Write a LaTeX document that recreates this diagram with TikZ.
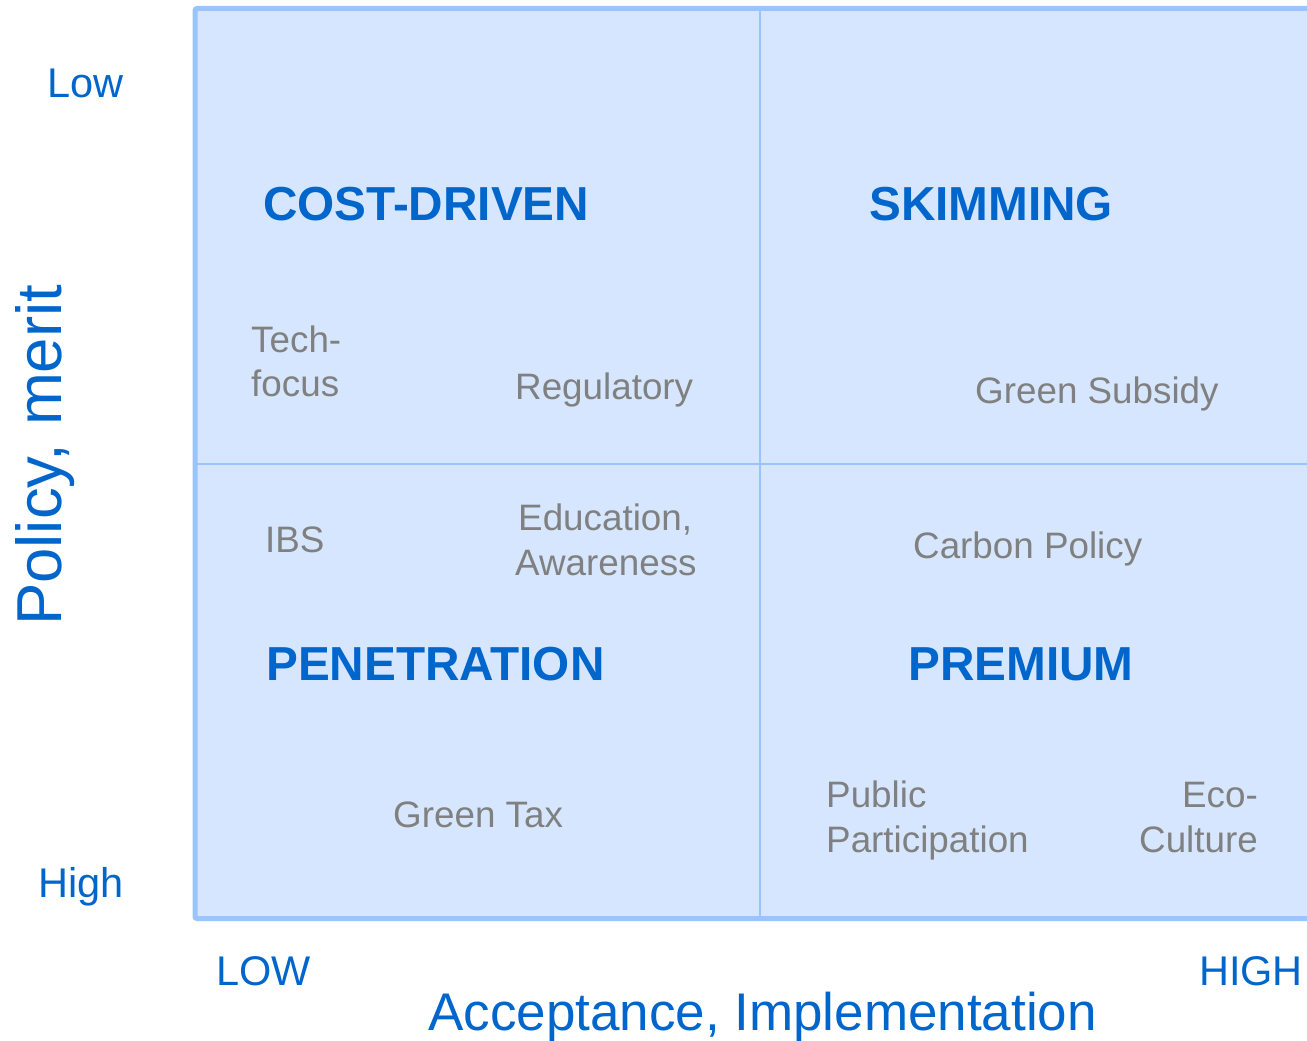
\documentclass[tikz,border=0pt]{standalone}
\usepackage{fontspec}
\setmainfont{Liberation Sans}
\definecolor{bfill}{HTML}{D6E6FF}
\definecolor{bline}{HTML}{99C4FF}
\definecolor{tblue}{HTML}{0066CC}
\definecolor{tgray}{HTML}{808080}
\begin{document}
\begin{tikzpicture}[x=1pt,y=-1pt,
  axis/.style={text=tblue,font=\fontsize{41.5}{45}\selectfont,inner sep=0pt,anchor=base west},
  bigaxis/.style={text=tblue,font=\fontsize{53}{58}\selectfont,inner sep=0pt,anchor=base west},
  title/.style={text=tblue,font=\fontsize{47.7}{52}\selectfont\bfseries,inner sep=0pt,anchor=base west},
  item/.style={text=tgray,font=\fontsize{36.8}{45}\selectfont,inner sep=0pt,anchor=base west},
]
\useasboundingbox (0,0) rectangle (1307,1041);
\clip (0,0) rectangle (1307,1041);
\draw[bline,line width=5pt,fill=bfill,rounded corners=2pt] (195,8.5) rectangle (1320,918.5);
\coordinate (vt) at (760,8.5);
\coordinate (vb) at (760,918.5);
\coordinate (hl) at (195,463.5);
\coordinate (hr) at (1320,463.5);
\draw[bline,line width=2pt] (vt) -- (vb);
\draw[bline,line width=2pt] (hl) -- (hr);

\node[axis] (low) at (47,97) {Low};
\node[axis] (high) at (38,897) {High};
\node[axis] (LOW) at (216,985) {LOW};
\node[axis] (HIGH) at (1199,985) {HIGH};
\node[bigaxis] (xlab) at (428,1030) {Acceptance, Implementation};
\node[text=tblue,font=\fontsize{63.5}{68}\selectfont,inner sep=0pt,anchor=base west,rotate=90] (ylab) at (61,626) {Policy, merit};

\node[title] (cd) at (263,220) {COST-DRIVEN};
\node[title] (sk) at (869,220) {SKIMMING};
\node[title] (pen) at (266,680) {PENETRATION};
\node[title] (pre) at (908,680) {PREMIUM};

\node[item] (tech1) at (251,352) {Tech-};
\node[item] (tech2) at (251,396) {focus};
\node[item] (reg) at (515,399) {Regulatory};
\node[item] (gs) at (975,403) {Green Subsidy};
\node[item] (ibs) at (265,552) {IBS};
\node[item] (edu1) at (518,530) {Education,};
\node[item] (edu2) at (515,575) {Awareness};
\node[item] (cp) at (913,558) {Carbon Policy};
\node[item] (gt) at (393,827) {Green Tax};
\node[item] (pp1) at (826,807) {Public};
\node[item] (pp2) at (826,852) {Participation};
\node[item,anchor=base east] (ec1) at (1258,807) {Eco-};
\node[item,anchor=base east] (ec2) at (1258,852) {Culture};
\end{tikzpicture}
\end{document}
